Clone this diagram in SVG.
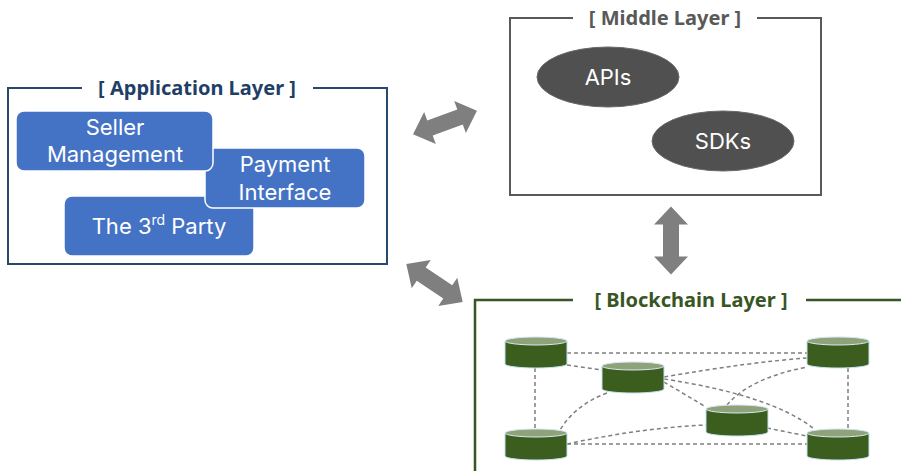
<svg xmlns="http://www.w3.org/2000/svg" xmlns:xlink="http://www.w3.org/1999/xlink" width="901" height="471" viewBox="0 0 901 471">
<style>
.title{font-family:"Noto Sans","Open Sans","Liberation Sans",sans-serif;font-weight:bold;font-size:20px;text-anchor:middle}
.lbl{font-family:Inter,"Noto Sans","Liberation Sans",sans-serif;font-size:22px;fill:#ffffff;text-anchor:middle}
.box{fill:#4472c4;stroke:#ffffff;stroke-width:1.5}
.ell{fill:#505050;stroke:#6a6a6a;stroke-width:1}
.dash{fill:none;stroke:#7f7f7f;stroke-width:1.5;stroke-dasharray:4 3}
.arr{fill:#7f7f7f}
</style>
<defs>
<path id="dbl" d="M-34,0 L-16,-17 L-16,-8 L16,-8 L16,-17 L34,0 L16,17 L16,8 L-16,8 L-16,17 Z"/>
<g id="cyl">
<path d="M0,4 L0,27 A31,4 0 0 0 62,27 L62,4 Z" fill="#3b5e1f" stroke="#c8e0ef" stroke-width="1"/>
<ellipse cx="31" cy="4" rx="31" ry="4" fill="#8fa37a" stroke="#d6e8f2" stroke-width="1"/>
</g>
</defs>
<rect width="901" height="471" fill="#ffffff"/>

<g id="application-layer">
<path d="M82,88 L8,88 L8,264 L387,264 L387,88 L313,88" fill="none" stroke="#27496d" stroke-width="2"/>
<text class="title" x="197" y="95" fill="#1f3f66">[ Application Layer ]</text>
</g>
<g id="third-party">
<rect class="box" x="64" y="196" width="190" height="60" rx="8"/>
<text class="lbl" x="159" y="234">The 3<tspan font-size="14" dy="-9">rd</tspan><tspan dy="9"> Party</tspan></text>
</g>
<g id="payment-interface">
<rect class="box" x="205" y="148" width="160" height="60" rx="8"/>
<text class="lbl" x="285" y="172">Payment</text>
<text class="lbl" x="285" y="199.5">Interface</text>
</g>
<g id="seller-management">
<rect class="box" x="16" y="111" width="197" height="60" rx="8"/>
<text class="lbl" x="115" y="134.5">Seller</text>
<text class="lbl" x="115" y="162">Management</text>
</g>

<g id="middle-layer">
<path d="M573,18 L510,18 L510,195 L821,195 L821,18 L757,18" fill="none" stroke="#595959" stroke-width="2"/>
<text class="title" x="665" y="25" fill="#595959">[ Middle Layer ]</text>
</g>
<g id="apis">
<ellipse class="ell" cx="608" cy="77" rx="71" ry="30"/>
<text class="lbl" x="608" y="85">APIs</text>
</g>
<g id="sdks">
<ellipse class="ell" cx="723" cy="141" rx="71" ry="30"/>
<text class="lbl" x="723" y="149">SDKs</text>
</g>

<g id="blockchain-layer">
<path d="M573,300 L475,300 L475,471 M806,300 L901,300" fill="none" stroke="#375623" stroke-width="2.5"/>
<text class="title" x="691" y="307" fill="#375623">[ Blockchain Layer ]</text>
</g>

<g id="connectors">
<use href="#dbl" class="arr" transform="translate(445,122.5) rotate(-20)"/>
<use href="#dbl" class="arr" transform="translate(434.5,283) rotate(34)"/>
<use href="#dbl" class="arr" transform="translate(671,240.5) rotate(90)"/>
<path class="dash" d="M567,353 L807,353"/>
<path class="dash" d="M567,365 L602,370"/>
<path class="dash" d="M535,368 L535,429"/>
<path class="dash" d="M848,368 L848,429"/>
<path class="dash" d="M664,377 Q750,362 807,358"/>
<path class="dash" d="M664,379 Q770,395 813,428"/>
<path class="dash" d="M664,382 L706,407"/>
<path class="dash" d="M607,393 Q575,405 560,430"/>
<path class="dash" d="M727,405 Q750,378 807,367"/>
<path class="dash" d="M567,444 Q640,428 706,425"/>
<path class="dash" d="M567,444 L807,444"/>
<path class="dash" d="M767,428 L807,436"/>
</g>

<g id="node-1"><use href="#cyl" x="505" y="337"/></g>
<g id="node-2"><use href="#cyl" x="602" y="362"/></g>
<g id="node-3"><use href="#cyl" x="807" y="337"/></g>
<g id="node-4"><use href="#cyl" x="706" y="405"/></g>
<g id="node-5"><use href="#cyl" x="505" y="429"/></g>
<g id="node-6"><use href="#cyl" x="807" y="429"/></g>
</svg>
